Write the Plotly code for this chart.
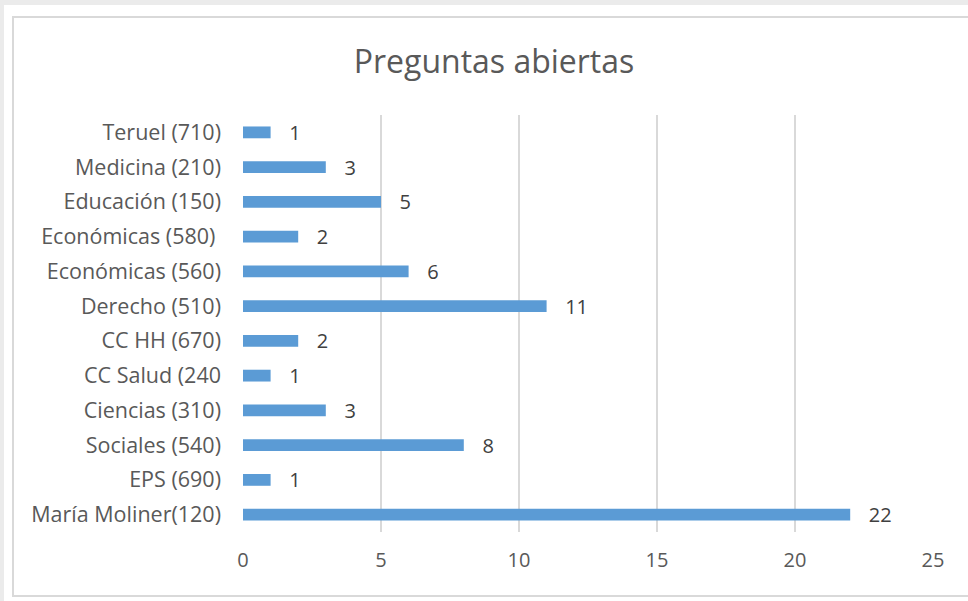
import plotly.graph_objects as go

categories = ["María Moliner(120)", "EPS (690)", "Sociales (540)", "Ciencias (310)",
              "CC Salud (240", "CC HH (670)", "Derecho (510)", "Económicas (560)",
              "Económicas (580) ", "Educación (150)", "Medicina (210)", "Teruel (710)"]
values = [22, 1, 8, 3, 1, 2, 11, 6, 2, 5, 3, 1]
x_ticks = [0, 5, 10, 15, 20, 25]

W, H = 968, 601
FONT = "Open Sans"
TXT = "#595959"

def px(x):
    return x / W

def py(y):
    return 1 - y / H

fig = go.Figure()
fig.add_trace(go.Bar(
    y=categories, x=values, orientation="h",
    marker=dict(color="#5B9BD5", line=dict(width=0)),
    width=0.34,
    text=["   " + str(v) for v in values], textposition="outside",
    constraintext="none",
    textfont=dict(family=FONT, size=20, color="#404040"),
    cliponaxis=False,
))

shapes = [
    dict(type="rect", xref="paper", yref="paper", x0=0, x1=1, y0=0, y1=1,
         fillcolor="#ebebeb", line=dict(width=0), layer="below"),
    dict(type="rect", xref="paper", yref="paper", x0=px(4), x1=1, y0=0, y1=py(5),
         fillcolor="#ffffff", line=dict(width=0), layer="below"),
    dict(type="rect", xref="paper", yref="paper", x0=px(13), x1=px(975), y0=py(596), y1=py(17),
         fillcolor="#ffffff", line=dict(width=2, color="#d9d9d9"), layer="below"),
]

fig.update_layout(
    width=W, height=H,
    margin=dict(l=0, r=0, t=0, b=0),
    paper_bgcolor="#ffffff", plot_bgcolor="rgba(0,0,0,0)",
    shapes=shapes,
    showlegend=False,
    title=dict(text="Preguntas abiertas", x=px(494), xanchor="center",
               y=py(62), yanchor="middle",
               font=dict(family=FONT, size=32, color=TXT)),
    xaxis=dict(domain=[px(243), px(933)], range=[0, 25], tickvals=x_ticks,
               showgrid=True, gridcolor="#d9d9d9", gridwidth=1.5,
               zeroline=False, showline=False, ticks="", automargin=False,
               ticklabelstandoff=14,
               tickfont=dict(family=FONT, size=20, color=TXT)),
    yaxis=dict(domain=[py(532), py(115)], categoryorder="array", categoryarray=categories,
               showgrid=False, zeroline=False, showline=False, ticks="", automargin=False,
               ticklabelstandoff=21,
               tickfont=dict(family=FONT, size=21.5, color=TXT)),
    font=dict(family=FONT, color=TXT),
)

fig.write_html("out.html")
